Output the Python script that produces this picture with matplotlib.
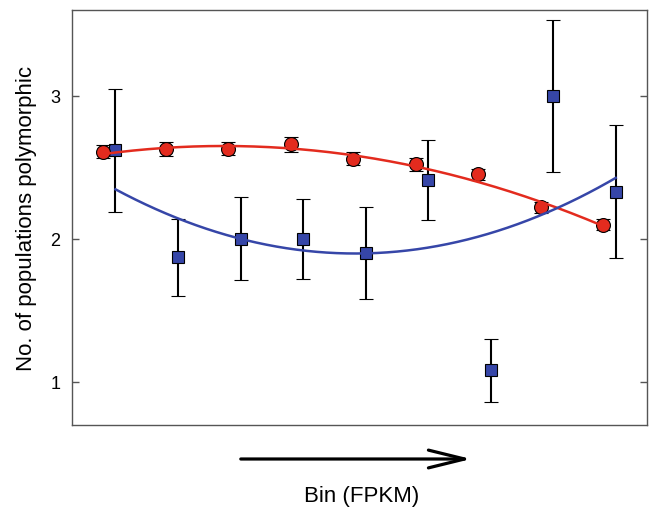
import numpy as np
import matplotlib
matplotlib.use("Agg")
import matplotlib.pyplot as plt
from matplotlib.patches import FancyArrowPatch

plt.rcParams['font.family'] = ['Liberation Sans', 'DejaVu Sans']

# Expression bins (ordered by increasing FPKM)
bins = np.arange(1, 10)

# Mean number of populations polymorphic per bin, with standard errors
red_mean = [2.61, 2.63, 2.63, 2.66, 2.56, 2.52, 2.45, 2.22, 2.10]
red_err = [0.045, 0.05, 0.045, 0.05, 0.045, 0.045, 0.04, 0.04, 0.04]

blue_mean = [2.62, 1.87, 2.00, 2.00, 1.90, 2.41, 1.08, 3.00, 2.33]
blue_err = [0.43, 0.27, 0.29, 0.28, 0.32, 0.28, 0.22, 0.53, 0.465]

# Quadratic trend coefficients in (bin - 5), highest power first
red_trend = [-0.0152, -0.0629, 2.584]
blue_trend = [0.0305, 0.010, 1.898]

yticks = [1, 2, 3]

RED = '#e32b1e'
BLUE = '#3646a8'
FRAME = '#555555'
BLUE_SHIFT = 0.2

fig = plt.figure(figsize=(6.49, 5.10), dpi=100)
ax = fig.add_axes([0.1105, 0.1653, 0.8864, 0.8131])

bx = bins + BLUE_SHIFT
ax.errorbar(bx, blue_mean, yerr=blue_err, fmt='s', ms=9, mfc=BLUE, mec='black',
            mew=0.8, ecolor='black', elinewidth=1.5, capsize=5, capthick=1.5, zorder=2)
ax.errorbar(bins, red_mean, yerr=red_err, fmt='o', ms=10, mfc=RED, mec='black',
            mew=0.8, ecolor='black', elinewidth=1.5, capsize=5, capthick=1.5, zorder=3)

# Trend curves across the span of each series
t = np.linspace(bins[0], bins[-1], 200) - 5
ax.plot(t + 5, np.polyval(red_trend, t), color=RED, lw=1.8, zorder=4)
ax.plot(t + 5 + BLUE_SHIFT, np.polyval(blue_trend, t), color=BLUE, lw=1.8, zorder=4)

ax.set_xlim(0.5, 9.7)
ax.set_ylim(0.7, 3.6)
ax.set_xticks([])
ax.set_yticks(yticks)
ax.set_yticklabels([str(v) for v in yticks])
ax.tick_params(axis='y', direction='in', length=5, width=1, color=FRAME,
               labelsize=13, pad=8, right=True)
for s in ax.spines.values():
    s.set_color(FRAME)
    s.set_linewidth(1.0)

ax.set_ylabel('No. of populations polymorphic', fontsize=16, labelpad=10)

arrow = FancyArrowPatch((238 / 649, 1 - 460 / 510), (474 / 649, 1 - 460 / 510),
                        transform=fig.transFigure,
                        arrowstyle='->,head_length=1.3,head_width=0.32',
                        mutation_scale=20, lw=2.3, color='black')
fig.add_artist(arrow)

fig.text(361.5 / 649, 1 - 497 / 510, 'Bin (FPKM)', ha='center', va='center', fontsize=16)

fig.savefig('out.png', dpi=100)
